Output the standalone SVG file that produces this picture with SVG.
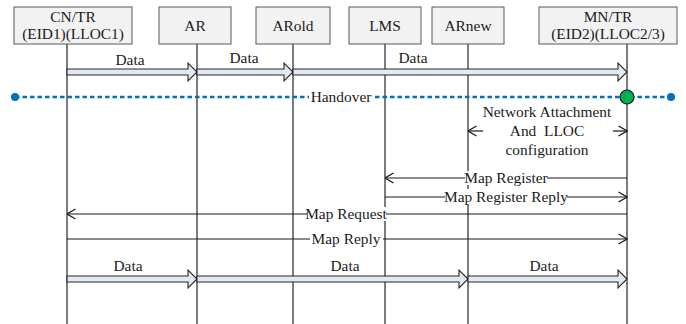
<svg xmlns="http://www.w3.org/2000/svg" width="686" height="324" viewBox="0 0 686 324">
<style>
.box{fill:#f2f2f2;stroke:#595959;stroke-width:1}
.t{font-family:"Liberation Serif","Times New Roman",Times,serif;font-size:15.4px;fill:#1a1a1a;text-anchor:middle}
.life{stroke:#262626;stroke-width:1.2}
.msg{stroke:#1a1a1a;stroke-width:1.2;fill:none}
.fat{fill:#e3e9f3;stroke:#262626;stroke-width:1.1}
.hand{stroke:#0070c0;stroke-width:2.4;stroke-dasharray:4.5 3;fill:none}
.bg{fill:#fff}
</style>
<defs>
<marker id="open" viewBox="0 0 10 12" refX="9.5" refY="6" markerWidth="10" markerHeight="12" markerUnits="userSpaceOnUse" orient="auto">
<polyline points="1,1 9.5,6 1,11" fill="none" stroke="#1a1a1a" stroke-width="1.3"/>
</marker>
</defs>
<g id="lifelines">
<line class="life" x1="67" y1="44" x2="67" y2="324"/>
<line class="life" x1="197" y1="44" x2="197" y2="324"/>
<line class="life" x1="293" y1="44" x2="293" y2="324"/>
<line class="life" x1="385" y1="44" x2="385" y2="324"/>
<line class="life" x1="468" y1="44" x2="468" y2="324"/>
<line class="life" x1="627" y1="44" x2="627" y2="324"/>
</g>
<g id="node-cn"><rect class="box" x="14" y="7" width="118" height="37"/><text class="t" x="73" y="22">CN/TR</text><text class="t" x="73" y="39">(EID1)(LLOC1)</text></g>
<g id="node-ar"><rect class="box" x="159" y="7" width="72" height="37"/><text class="t" x="195" y="31">AR</text></g>
<g id="node-arold"><rect class="box" x="256" y="7" width="74" height="37"/><text class="t" x="293" y="31">ARold</text></g>
<g id="node-lms"><rect class="box" x="349" y="7" width="72" height="37"/><text class="t" x="385" y="31">LMS</text></g>
<g id="node-arnew"><rect class="box" x="432" y="7" width="72" height="37"/><text class="t" x="468" y="31">ARnew</text></g>
<g id="node-mn"><rect class="box" x="539" y="7" width="138" height="37"/><text class="t" x="608" y="22">MN/TR</text><text class="t" x="608" y="39">(EID2)(LLOC2/3)</text></g>
<g id="connectors">
<polygon class="fat" points="67,69 188,69 188,63 197,72 188,81 188,75 67,75"/>
<polygon class="fat" points="197,69 284,69 284,63 293,72 284,81 284,75 197,75"/>
<polygon class="fat" points="293,69 618,69 618,63 627,72 618,81 618,75 293,75"/>
<text class="t" x="130" y="65">Data</text>
<text class="t" x="244" y="63">Data</text>
<text class="t" x="413" y="63">Data</text>
<line class="hand" x1="15" y1="97" x2="671" y2="97"/>
<rect class="bg" x="309" y="89" width="64" height="16"/>
<text class="t" x="341" y="102">Handover</text>
<circle cx="15" cy="97" r="4" fill="#0070c0"/>
<circle cx="671" cy="97" r="4" fill="#0070c0"/>
<circle cx="627" cy="97" r="7" fill="#00b050" stroke="#1a1a1a" stroke-width="1.2"/>
<text class="t" x="547" y="117">Network Attachment</text>
<text class="t" x="547" y="136" style="white-space:pre">And  LLOC</text>
<text class="t" x="547" y="155">configuration</text>
<line class="msg" x1="483" y1="131" x2="468" y2="131" marker-end="url(#open)"/>
<line class="msg" x1="613" y1="131" x2="627" y2="131" marker-end="url(#open)"/>
<line class="msg" x1="627" y1="178" x2="385" y2="178" marker-end="url(#open)"/>
<rect class="bg" x="465" y="171" width="82" height="14"/>
<text class="t" x="506" y="183">Map Register</text>
<line class="msg" x1="385" y1="197" x2="627" y2="197" marker-end="url(#open)"/>
<rect class="bg" x="445" y="189" width="122" height="15"/>
<text class="t" x="506" y="202">Map Register Reply</text>
<line class="msg" x1="627" y1="214" x2="67" y2="214" marker-end="url(#open)"/>
<rect class="bg" x="307" y="207" width="79" height="14"/>
<text class="t" x="346" y="219">Map Request</text>
<line class="msg" x1="67" y1="239" x2="627" y2="239" marker-end="url(#open)"/>
<rect class="bg" x="310" y="232" width="73" height="14"/>
<text class="t" x="346" y="244">Map Reply</text>
<polygon class="fat" points="67,276 188,276 188,270 197,279 188,288 188,282 67,282"/>
<polygon class="fat" points="197,276 459,276 459,270 468,279 459,288 459,282 197,282"/>
<polygon class="fat" points="468,276 618,276 618,270 627,279 618,288 618,282 468,282"/>
<text class="t" x="128" y="271">Data</text>
<text class="t" x="345" y="271">Data</text>
<text class="t" x="544" y="271">Data</text>
</g>
</svg>
